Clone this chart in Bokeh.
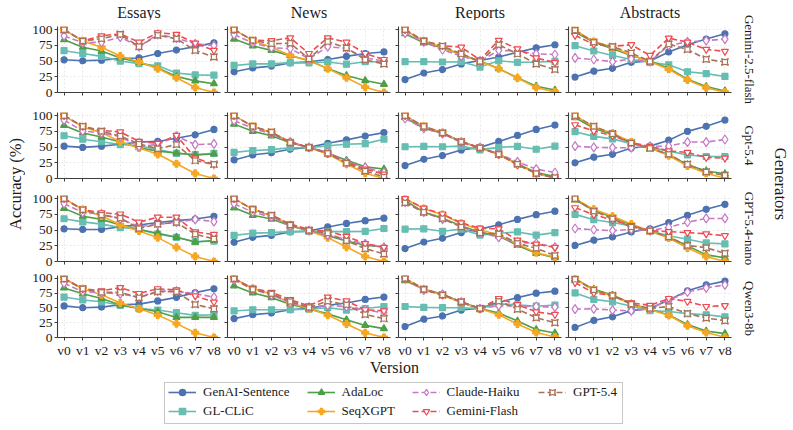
import math
from bokeh.plotting import figure
from bokeh.layouts import column, row
from bokeh.models import Range1d, FixedTicker, Legend, LegendItem, BoxAnnotation
from bokeh.core.properties import value
from bokeh.embed import file_html
from bokeh.resources import INLINE

# ---------------- data ----------------
VERSIONS = ["v0", "v1", "v2", "v3", "v4", "v5", "v6", "v7", "v8"]
DOMAINS = ["Essays", "News", "Reports", "Abstracts"]
GENERATORS = ["Gemini-2.5-flash", "Gpt-5.4", "GPT-5.4-nano", "Qwen3-8b"]
METHODS = ["GenAI-Sentence", "GL-CLiC", "AdaLoc", "SeqXGPT",
           "Claude-Haiku", "Gemini-Flash", "GPT-5.4"]
Y_TICKS = [0, 25, 50, 75, 100]

# each panel: one list per method (METHODS order), values per version
gemini_essays = [
    [52, 50.5, 51.5, 54, 55, 62, 67.5, 73, 79],
    [66.5, 62, 57.5, 50, 46, 42.5, 31, 28, 27.5],
    [84, 72, 66, 55, 48, 39, 25.5, 18.5, 14],
    [100, 82, 72, 58, 48.5, 38, 23.5, 8, 0],
    [90, 79, 80, 88, 73, 92.5, 86.5, 77.5, 74.5],
    [100, 82, 90, 93.5, 80, 95, 92.5, 78.5, 67],
    [100, 82, 85.5, 92.5, 73, 91, 85.5, 67, 56.5],
]
gemini_news = [
    [33, 39, 42, 47, 49, 52.5, 57.5, 62, 64.5],
    [43, 45.5, 45.5, 47.5, 47, 48.5, 45, 49, 49],
    [85, 74, 67, 58.5, 51, 38, 27, 19, 13],
    [100, 82.5, 72, 59, 51, 38, 23.5, 8.5, 0],
    [92, 79, 71, 70, 53.5, 73, 70, 55, 50],
    [100, 83, 82.5, 87, 62, 87, 80, 62, 52.5],
    [100, 83, 77.5, 78.5, 53.5, 81, 71, 52, 45.5],
]
gemini_reports = [
    [20.5, 31, 36.5, 45.5, 51, 56.5, 64, 71, 76],
    [49, 49, 48.5, 49, 40.5, 50.5, 48, 48.5, 49.5],
    [93.5, 79, 71, 60.5, 50, 38, 23.5, 10, 4],
    [99, 82, 72, 60, 49.5, 38, 23, 8, 1],
    [94.5, 80.5, 68, 58, 50, 67, 66, 61.5, 60.5],
    [100, 82, 74.5, 72, 52, 83, 69.5, 55, 47.5],
    [100, 82, 74, 61.5, 49.5, 76, 61.5, 45.5, 36.5],
]
gemini_abstracts = [
    [24.5, 34, 38.5, 48, 50, 64.5, 76, 85, 93.5],
    [74.5, 66, 59, 52.5, 48, 44, 33, 30, 25.5],
    [96, 80, 69.5, 59, 50, 38.5, 21, 9.5, 2.5],
    [99, 81, 72, 59.5, 49, 37, 20, 7.5, 0.5],
    [55, 52.5, 49, 53.5, 49, 75, 80.5, 82.5, 85],
    [91, 76.5, 73.5, 76, 59, 86.5, 80, 68.5, 65.5],
    [99, 80, 73, 63, 49.5, 77, 68.5, 53, 48.5],
]
gpt54_essays = [
    [51.5, 49.5, 51.5, 54.5, 58, 59, 64, 69.5, 78],
    [68, 62.5, 58.5, 54, 52, 46, 40, 38, 40],
    [84.5, 72.5, 66, 58, 49, 43.5, 40.5, 37.5, 39],
    [100, 82, 73, 58.5, 48.5, 38.5, 23.5, 8, 0],
    [93, 75.5, 72.5, 66.5, 51, 54, 67.5, 54, 55],
    [100, 83, 76.5, 74, 59, 56, 68.5, 32.5, 22.5],
    [100, 83, 75, 67.5, 55, 47.5, 54, 28.5, 22.5],
]
gpt54_news = [
    [29.5, 37.5, 41, 46.5, 49.5, 56, 61.5, 67.5, 73],
    [41.5, 44.5, 46, 49, 49, 52, 54.5, 55.5, 62.5],
    [86.5, 75, 68, 57, 49.5, 40.5, 29, 18.5, 15],
    [100, 83, 73, 58.5, 49, 39, 23, 8.5, 0],
    [92, 80, 71, 58, 49.5, 41.5, 26.5, 17.5, 9.5],
    [100, 83, 73, 58, 49.5, 40, 26, 15, 7],
    [100, 83, 74, 57, 49.5, 40, 24.5, 12, 2.5],
]
gpt54_reports = [
    [20.5, 30.5, 36.5, 45.5, 49.5, 59, 68.5, 78, 85],
    [50.5, 51, 50.5, 51.5, 45.5, 49.5, 51, 46.5, 51.5],
    [97, 80, 72, 58.5, 49, 39, 23, 9.5, 3],
    [100, 83, 73, 58.5, 49, 38.5, 22.5, 8, 0.5],
    [95.5, 79.5, 71.5, 57, 49, 39, 26.5, 15, 9.5],
    [100, 82, 72.5, 58.5, 48.5, 38.5, 21.5, 8.5, 1],
    [100, 83, 72.5, 58.5, 49, 38.5, 23, 8, 1.5],
]
gpt54_abstracts = [
    [25, 34, 38.5, 48.5, 51.5, 61, 75, 83, 93],
    [74.5, 67, 63, 55.5, 49.5, 43.5, 37.5, 35, 35],
    [97, 80, 70, 57, 48, 38, 22, 12, 7.5],
    [100, 82, 72, 58, 48.5, 36.5, 20, 8.5, 0.5],
    [51.5, 49.5, 49, 49, 51, 51.5, 58, 58, 62],
    [85.5, 75.5, 68, 57, 51, 44, 41.5, 33.5, 32.5],
    [100, 83, 71, 56.5, 48, 38.5, 22.5, 10.5, 5],
]
nano_essays = [
    [52, 51, 51, 55.5, 58, 62, 65, 67.5, 72],
    [68, 63, 59.5, 54, 51.5, 43.5, 38.5, 31.5, 32.5],
    [84.5, 72, 67, 58, 51, 45, 38.5, 31, 33.5],
    [100, 82.5, 72.5, 58.5, 48.5, 38, 22.5, 8, 0],
    [92, 78, 75.5, 67.5, 55.5, 59, 62.5, 67, 63.5],
    [100, 82.5, 77.5, 75.5, 62.5, 70.5, 70.5, 47, 43],
    [100, 82.5, 74, 69, 52.5, 59.5, 62, 43.5, 36],
]
nano_news = [
    [30.5, 38.5, 41.5, 47, 48.5, 55, 60.5, 65, 69],
    [41.5, 45, 46, 47.5, 48, 47.5, 47.5, 48, 52.5],
    [85.5, 73.5, 67.5, 57, 48.5, 41, 32.5, 26, 23],
    [100, 83, 72.5, 58.5, 48.5, 38, 23, 8, 0],
    [92, 78.5, 70.5, 56.5, 49, 42, 35, 28, 22.5],
    [100, 83, 74, 59.5, 51, 48, 40, 28.5, 22.5],
    [100, 83, 73.5, 58, 49.5, 45, 33, 20.5, 12],
]
nano_reports = [
    [20.5, 31, 37, 46, 51.5, 58.5, 67, 74.5, 80],
    [51.5, 52, 48, 51.5, 42, 45, 47, 42, 46],
    [97, 78.5, 69, 56.5, 46.5, 40.5, 25.5, 13, 6],
    [100, 84, 74.5, 60.5, 50.5, 42, 28, 14, 7],
    [94.5, 78.5, 67.5, 56.5, 46.5, 38.5, 30.5, 29, 23],
    [100, 85, 75.5, 61.5, 53, 52, 34, 27.5, 22.5],
    [93.5, 78.5, 68.5, 55, 45.5, 44, 29, 21, 9.5],
]
nano_abstracts = [
    [25.5, 34, 39, 47, 52, 62, 73.5, 83, 91],
    [75, 66.5, 62, 56.5, 48.5, 41, 35.5, 29.5, 28],
    [98, 81.5, 70.5, 58.5, 48, 38.5, 25, 10.5, 6],
    [100, 83, 72, 59.5, 48.5, 37.5, 21.5, 8, 0],
    [52.5, 50.5, 49, 51, 49, 54.5, 62.5, 68.5, 68.5],
    [85.5, 74.5, 66, 57, 49, 47.5, 46, 44, 41],
    [100, 80, 68, 55, 49, 39, 25.5, 22, 13],
]
qwen_essays = [
    [53.5, 50.5, 51.5, 55.5, 56.5, 62, 68, 76, 82.5],
    [68.5, 63.5, 60.5, 54.5, 49, 46.5, 42, 37.5, 38.5],
    [84, 74, 66, 55, 49.5, 43.5, 34, 34, 34],
    [100, 82.5, 72.5, 58.5, 48.5, 38, 23.5, 8, 0],
    [92, 77.5, 76, 74, 68, 78.5, 78.5, 74, 68.5],
    [100, 82.5, 79, 84.5, 74.5, 82.5, 80.5, 70.5, 60],
    [99, 82.5, 76.5, 76.5, 67.5, 77.5, 77.5, 56, 48.5],
]
qwen_news = [
    [32, 38.5, 41.5, 47, 49.5, 54.5, 58.5, 64.5, 68.5],
    [45, 47, 47, 47, 48, 50.5, 46.5, 49, 52.5],
    [87.5, 75.5, 67.5, 56.5, 48.5, 40, 30, 20.5, 15],
    [100, 83, 73.5, 58.5, 49, 38, 23, 8, 0],
    [98, 81.5, 72, 59, 51.5, 54.5, 52.5, 47, 41.5],
    [100, 83, 76.5, 64, 53.5, 68.5, 62, 47, 45],
    [99.5, 81.5, 74, 61, 51, 61.5, 55.5, 39, 32],
]
qwen_reports = [
    [18.5, 31, 36.5, 46.5, 49.5, 59.5, 67.5, 75, 78.5],
    [52.5, 51, 50.5, 50.5, 49, 57, 55.5, 53, 55],
    [96.5, 81.5, 73.5, 59.5, 49, 41.5, 28, 13.5, 7.5],
    [100, 81.5, 72, 59, 48.5, 38.5, 23, 8.5, 1],
    [99.5, 80, 72.5, 60, 49, 54, 53.5, 52.5, 51.5],
    [100, 82.5, 72.5, 60.5, 49, 66, 55.5, 43.5, 39],
    [100, 81.5, 72, 60.5, 49, 61.5, 48, 33.5, 25],
]
qwen_abstracts = [
    [17, 29, 35, 45.5, 49, 63.5, 79, 89, 95.5],
    [75.5, 64.5, 60.5, 53, 45.5, 44, 40.5, 38.5, 35],
    [99.5, 81.5, 72, 57, 48, 38, 22, 11, 6.5],
    [100, 80, 70.5, 56.5, 47, 37.5, 20, 8.5, 0.5],
    [48, 48.5, 46.5, 45, 49, 63, 77, 84, 89],
    [93, 75.5, 71, 58.5, 54.5, 66, 61, 52.5, 54],
    [98.5, 80.5, 71, 56.5, 49, 52.5, 40.5, 33, 28.5],
]

PANELS = [
    [gemini_essays, gemini_news, gemini_reports, gemini_abstracts],
    [gpt54_essays, gpt54_news, gpt54_reports, gpt54_abstracts],
    [nano_essays, nano_news, nano_reports, nano_abstracts],
    [qwen_essays, qwen_news, qwen_reports, qwen_abstracts],
]

# ---------------- styles ----------------
FONT = "Liberation Serif"
TXT = "#1a1a1a"
STYLES = [
    dict(color="#4C72B0", marker="circle", size=6, fill=None, dash="solid"),
    dict(color="#66BDB2", marker="square", size=6, fill=None, dash="solid"),
    dict(color="#4E9F45", marker="triangle", size=7, fill=None, dash="solid"),
    dict(color="#F5A623", marker="plus", size=7, fill=None, dash="solid"),
    dict(color="#C67AC6", marker="diamond", size=9, fill="white", dash="6 3"),
    dict(color="#EE4B52", marker="inverted_triangle", size=7, fill="white", dash="6 3"),
    dict(color="#A87259", marker="square_pin", size=7, fill="white", dash="6 3"),
]

FW, FH = 163, 66
COL_L = [32, 3, 4, 4]
COL_R = [4, 4, 3, 4]
ROW_T = [6, 11, 8, 5]
ROW_B = [9, 9, 9, 19]
LEFT_W, RIGHT_W, TOP_H, BOT_H = 25, 58, 20, 70
TOTAL_W, TOTAL_H = 793, 430
MID_W = TOTAL_W - LEFT_W - RIGHT_W
GRID_H = sum(ROW_T) + sum(ROW_B) + 4 * FH


def style_axis(ax, show_labels):
    ax.axis_line_color = "#3c3c3c"
    ax.axis_line_width = 1.1
    ax.major_tick_line_color = "#3c3c3c"
    ax.major_tick_out = 3
    ax.major_tick_in = 0
    ax.minor_tick_line_color = None
    ax.major_label_text_font = FONT
    if show_labels:
        ax.major_label_text_color = TXT
        ax.major_label_text_font_size = "13.5px"
        ax.major_label_standoff = 2
    else:
        ax.major_label_text_color = None
        ax.major_label_text_font_size = "0px"
        ax.major_label_standoff = 0


grid_rows = []
for r in range(4):
    figs = []
    for c in range(4):
        p = figure(width=COL_L[c] + FW + COL_R[c], height=ROW_T[r] + FH + ROW_B[r],
                   x_range=Range1d(-0.35, len(VERSIONS) - 1 + 0.35),
                   y_range=Range1d(0, 105),
                   output_backend="svg", toolbar_location=None,
                   min_border_left=COL_L[c], min_border_right=COL_R[c],
                   min_border_top=ROW_T[r], min_border_bottom=ROW_B[r])
        p.outline_line_color = None
        p.background_fill_color = "white"
        p.border_fill_color = "white"
        p.xaxis.ticker = FixedTicker(ticks=list(range(len(VERSIONS))))
        p.xaxis.major_label_overrides = {i: v for i, v in enumerate(VERSIONS)}
        p.yaxis.ticker = FixedTicker(ticks=Y_TICKS)
        style_axis(p.xaxis[0], r == 3)
        style_axis(p.yaxis[0], c == 0)
        p.grid.grid_line_color = "#e2e2e2"
        p.grid.grid_line_dash = "2 2"
        p.grid.grid_line_width = 0.8
        xs = list(range(len(VERSIONS)))
        for vals, st in zip(PANELS[r][c], STYLES):
            p.line(xs, vals, line_color=st["color"], line_width=1.6,
                   line_dash=st["dash"])
            p.scatter(xs, vals, marker=st["marker"], size=st["size"],
                      line_color=st["color"], line_width=1.2,
                      fill_color=st["fill"] if st["fill"] else st["color"])
        figs.append(p)
    grid_rows.append(row(*figs))
grid = column(*grid_rows)

# frame geometry (absolute page pixels, for label placement)
frame_left = []
x0 = LEFT_W
for c in range(4):
    frame_left.append(x0 + COL_L[c])
    x0 += COL_L[c] + FW + COL_R[c]
frame_top = []
y0 = TOP_H
for r in range(4):
    frame_top.append(y0 + ROW_T[r])
    y0 += ROW_T[r] + FH + ROW_B[r]
grid_mid = (frame_top[0] + frame_top[3] + FH) / 2


def blank(w, h, xr, yr):
    f = figure(width=w, height=h, x_range=xr, y_range=yr,
               x_axis_type=None, y_axis_type=None,
               output_backend="svg", toolbar_location=None,
               min_border_left=0, min_border_right=0,
               min_border_top=0, min_border_bottom=0)
    f.outline_line_color = None
    f.background_fill_color = "white"
    f.border_fill_color = "white"
    return f


# top strip with column titles (x in page pixels)
top = blank(MID_W, TOP_H, Range1d(LEFT_W, LEFT_W + MID_W), Range1d(TOP_H, 0))
top.text(x=[fl + FW / 2 for fl in frame_left], y=[11.5] * 4, text=DOMAINS,
         text_align="center", text_baseline="middle",
         text_font=value(FONT), text_font_size="16px", text_color=TXT)

# left strip (full height)
left = blank(LEFT_W, TOTAL_H, Range1d(0, LEFT_W), Range1d(TOTAL_H, 0))
left.text(x=[15], y=[grid_mid], text=["Accuracy (%)"], angle=math.pi / 2,
          text_align="center", text_baseline="middle",
          text_font=value(FONT), text_font_size="16.5px", text_color=TXT)

# right strip (full height)
RX0 = TOTAL_W - RIGHT_W
right = blank(RIGHT_W, TOTAL_H, Range1d(RX0, TOTAL_W), Range1d(TOTAL_H, 0))
right.text(x=[RX0 + 14] * 4, y=[t + FH / 2 for t in frame_top], text=GENERATORS,
           angle=-math.pi / 2, text_align="center", text_baseline="middle",
           text_font=value(FONT), text_font_size="13px", text_color=TXT)
right.text(x=[RX0 + 45], y=[grid_mid], text=["Generators"], angle=-math.pi / 2,
           text_align="center", text_baseline="middle",
           text_font=value(FONT), text_font_size="16.5px", text_color=TXT)

# bottom strip: axis title + legend (coords in page pixels)
BY0 = TOP_H + GRID_H
bottom = blank(MID_W, BOT_H, Range1d(LEFT_W, LEFT_W + MID_W),
               Range1d(BY0 + BOT_H, BY0))
grid_cx = (frame_left[0] + frame_left[3] + FW) / 2
bottom.text(x=[grid_cx], y=[366.5], text=["Version"], text_align="center",
            text_baseline="middle", text_font=value(FONT),
            text_font_size="16px", text_color=TXT)

# legend frame
LEG_L, LEG_R, LEG_T, LEG_B = 164, 622, 382, 423
bottom.add_layout(BoxAnnotation(left=LEG_L, right=LEG_R, top=LEG_T, bottom=LEG_B,
                                fill_color="white", fill_alpha=1,
                                line_color="#444444", line_width=1))
legend_items = []
for m, st in zip(METHODS, STYLES):
    lr = bottom.line(x=[float("nan")], y=[float("nan")], line_color=st["color"],
                     line_width=1.6, line_dash=st["dash"])
    sr = bottom.scatter(x=[float("nan")], y=[float("nan")], marker=st["marker"],
                        size=st["size"], line_color=st["color"], line_width=1.2,
                        fill_color=st["fill"] if st["fill"] else st["color"])
    legend_items.append(LegendItem(label=m, renderers=[lr, sr]))

LEG_COL_X = [168, 306.5, 411.5, 538]   # page x of each legend column
LEG_ROW1_Y = 391.7
groups = [legend_items[0:2], legend_items[2:4], legend_items[4:6], legend_items[6:7]]
ITEM_H, ITEM_GAP = 16, 3
for gx, grp in zip(LEG_COL_X, groups):
    lg = Legend(items=grp, orientation="vertical")
    h = len(grp) * ITEM_H + (len(grp) - 1) * ITEM_GAP
    top_y = LEG_ROW1_Y - ITEM_H / 2
    lg.location = (gx - LEFT_W, BOT_H - (top_y - BY0) - h)
    lg.margin = 0
    lg.padding = 0
    lg.spacing = ITEM_GAP
    lg.glyph_width = 28
    lg.glyph_height = ITEM_H
    lg.label_height = ITEM_H
    lg.label_standoff = 7
    lg.label_text_font = FONT
    lg.label_text_font_size = "13px"
    lg.label_text_color = TXT
    lg.border_line_color = None
    lg.background_fill_alpha = 0
    bottom.add_layout(lg, "center")

layout = row(left, column(top, grid, bottom), right)
open("out.html", "w").write(file_html(layout, INLINE))
